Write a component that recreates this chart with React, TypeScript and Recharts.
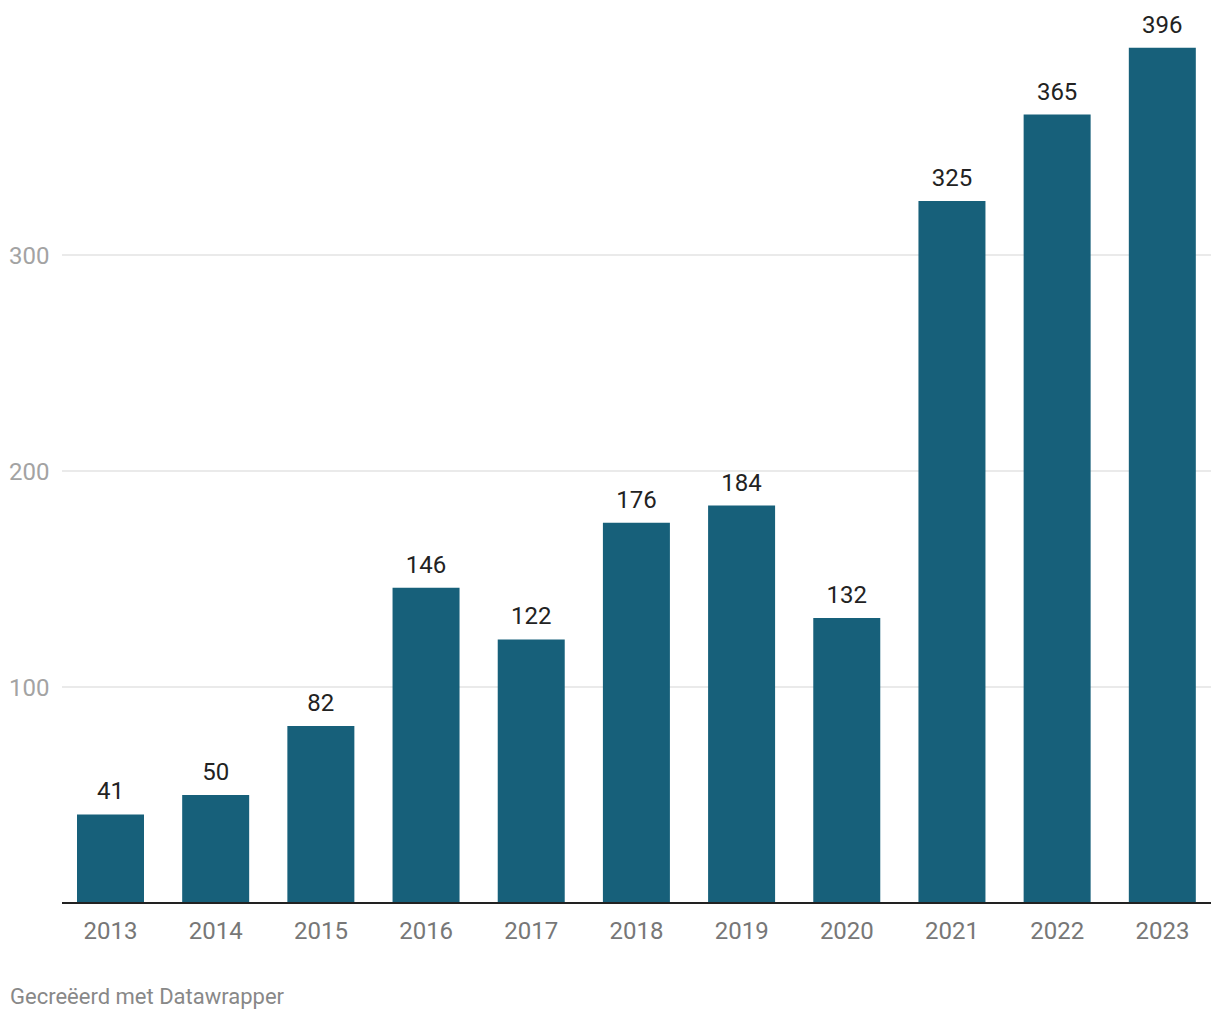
import React from "react";
import { BarChart, Bar, XAxis, YAxis, ReferenceLine, LabelList, CartesianGrid } from "recharts";

const years = ["2013", "2014", "2015", "2016", "2017", "2018", "2019", "2020", "2021", "2022", "2023"];
const values = [41, 50, 82, 146, 122, 176, 184, 132, 325, 365, 396];
const yTicks = [100, 200, 300];

const data = years.map((y, i) => ({ year: y, value: values[i] }));

const FONT = "Roboto, 'Noto Sans', sans-serif";
const BAR = "#17607A";

const InsetLine = (props: any) => {
  const { x1, x2, y1, stroke, strokeWidth } = props;
  return <line x1={x1 + 4} x2={x2 - 4} y1={y1} y2={y1} stroke={stroke} strokeWidth={strokeWidth} />;
};

const GridLine = (props: any) => {
  const { x1, x2, y1, index } = props;
  return <line key={index} x1={x1 + 4} x2={x2 - 4} y1={y1} y2={y1} stroke="#e3e3e3" strokeWidth={1.5} />;
};

const YTick = (props: any) => {
  const { y, payload } = props;
  return (
    <text x={1} y={y} dy="0.36em" fill="#a3a3a3" fontSize={24} fontFamily={FONT} textAnchor="start">
      {payload.value}
    </text>
  );
};

export default function App() {
  return (
    <div style={{ position: "relative", width: 1212, height: 1004 }}>
      <BarChart width={1212} height={1000} data={data} margin={{ top: 31, right: 5, left: 0, bottom: 65 }}>
        <CartesianGrid vertical={false} horizontal={GridLine} horizontalValues={yTicks} />
        <XAxis
          dataKey="year"
          axisLine={false}
          tickLine={false}
          tickMargin={13}
          height={40}
          tick={{ fill: "#777777", fontSize: 24, fontFamily: FONT }}
        />
        <YAxis
          domain={[0, 400]}
          ticks={yTicks}
          width={50}
          axisLine={false}
          tickLine={false}
          tick={<YTick />}
        />
        <Bar dataKey="value" fill={BAR} barSize={67} isAnimationActive={false}>
          <LabelList dataKey="value" position="top" offset={15} fill="#222222" fontSize={24} fontFamily={FONT} />
        </Bar>
        <ReferenceLine y={0} stroke="#222222" strokeWidth={2} shape={InsetLine} />
      </BarChart>
      <div
        style={{
          position: "absolute",
          left: 2,
          top: 976,
          fontFamily: FONT,
          fontSize: 22,
          color: "#888888",
          whiteSpace: "nowrap",
        }}
      >
        Gecreëerd met Datawrapper
      </div>
    </div>
  );
}
